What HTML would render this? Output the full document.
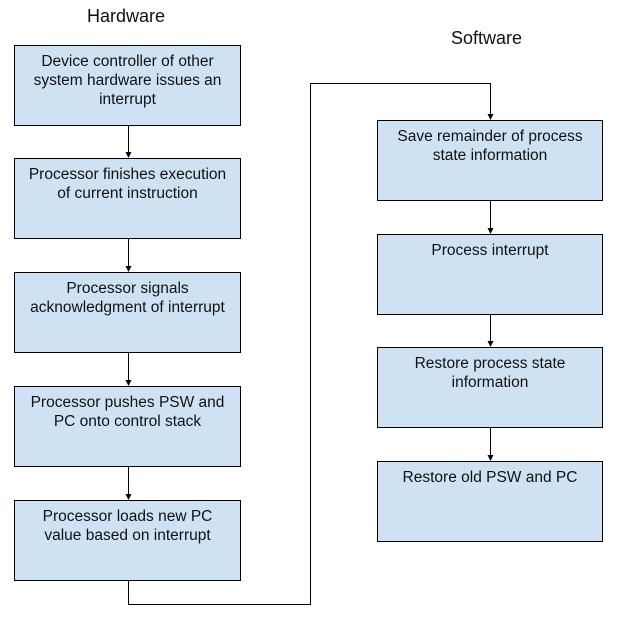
<!DOCTYPE html>
<html><head><style>
body{margin:0;width:618px;height:620px;background:#fff;position:relative;font-family:"Liberation Sans",Arial,sans-serif;overflow:hidden}
.b{position:absolute;background:#cfe2f3;border:1px solid #000;box-sizing:border-box;text-align:center;font-size:15.5px;line-height:19px;padding-top:6px;color:#111}
.l{left:14px;width:227px;height:81px}
.r{left:377px;width:226px;height:81px}
.h{position:absolute;font-size:18px;color:#111}
svg{position:absolute;left:0;top:0}
</style></head><body>
<div class="h" style="left:87px;top:6px">Hardware</div>
<div class="h" style="left:451px;top:28px">Software</div>
<svg width="618" height="620">
<g stroke="#000" stroke-width="1" fill="none">
<path d="M128.5 126V153"/>
<path d="M128.5 239V267"/>
<path d="M128.5 353V381"/>
<path d="M128.5 467V495"/>
<path d="M128.5 581V604.5H310.5V83.5H490.5V115"/>
<path d="M490.5 201V229"/>
<path d="M490.5 315V343"/>
<path d="M490.5 428V456"/>
</g>
<g fill="#000">
<path d="M125.5 152H131.5L128.5 158z"/>
<path d="M125.5 266H131.5L128.5 272z"/>
<path d="M125.5 380H131.5L128.5 386z"/>
<path d="M125.5 494H131.5L128.5 500z"/>
<path d="M487.5 114H493.5L490.5 120z"/>
<path d="M487.5 228H493.5L490.5 234z"/>
<path d="M487.5 341H493.5L490.5 347z"/>
<path d="M487.5 455H493.5L490.5 461z"/>
</g></svg>
<div class="b l" style="top:45px">Device controller of other<br>system hardware issues an<br>interrupt</div>
<div class="b l" style="top:158px">Processor finishes execution<br>of current instruction</div>
<div class="b l" style="top:272px">Processor signals<br>acknowledgment of interrupt</div>
<div class="b l" style="top:386px">Processor pushes PSW and<br>PC onto control stack</div>
<div class="b l" style="top:500px">Processor loads new PC<br>value based on interrupt</div>
<div class="b r" style="top:120px">Save remainder of process<br>state information</div>
<div class="b r" style="top:234px">Process interrupt</div>
<div class="b r" style="top:347px">Restore process state<br>information</div>
<div class="b r" style="top:461px">Restore old PSW and PC</div>
</body></html>
